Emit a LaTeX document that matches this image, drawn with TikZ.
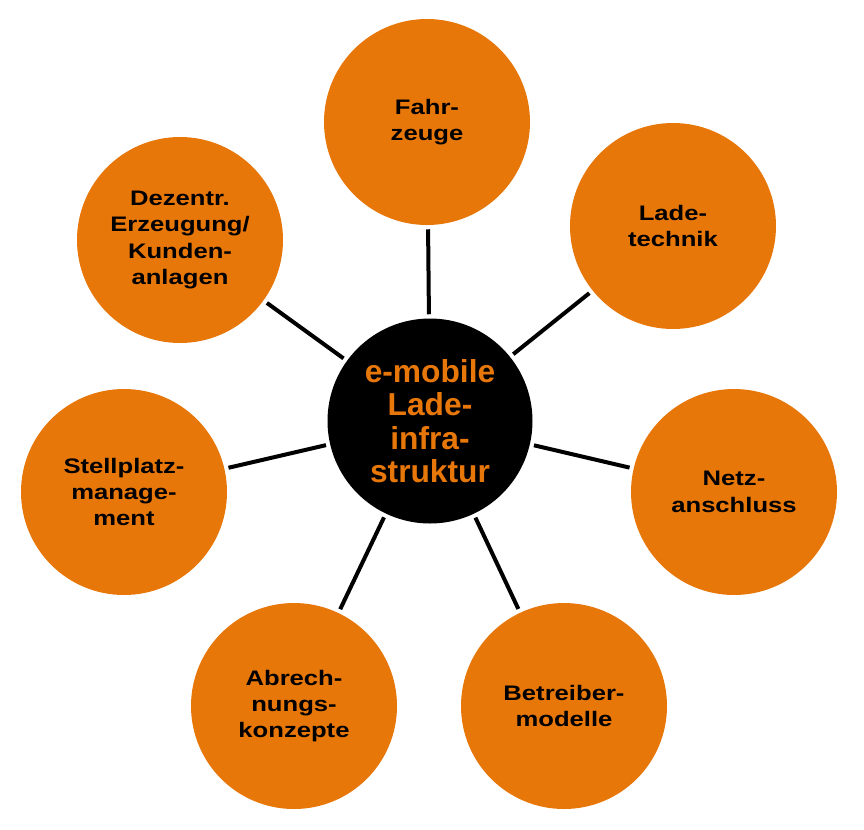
\documentclass[tikz,border=0pt]{standalone}
\usepackage{fontspec}
\newfontfamily\fuenteexterna[FakeStretch=1.22]{Liberation Sans Bold}
\newfontfamily\fuentecentro{Liberation Sans Bold}
\definecolor{naranja}{HTML}{E8770A}

\tikzset{
    tema/.style={circle, fill=naranja, inner sep=0pt, minimum size=154.5pt,
        align=center, text=black,
        font=\fuenteexterna\fontsize{15.75}{19.7}\selectfont},
    centro/.style={circle, fill=black, inner sep=0pt, minimum size=153.75pt,
        align=center, text=naranja,
        font=\fuentecentro\fontsize{23.8}{25}\selectfont},
    conector/.style={line width=3pt, shorten >=3pt, shorten <=3pt}
}

\begin{document}
\begin{tikzpicture}[x=0.75pt, y=-0.75pt]

    % Marco del dibujo
    \useasboundingbox (0,0) rectangle (864,829);

    % Circulo central
    \node[centro] (infra) at (430,421) {e-mobile\\Lade-\\infra-\\struktur};

    % Circulos alrededor
    \node[tema] (fahrzeuge) at (427,122) {Fahr-\\zeuge};
    \node[tema] (ladetechnik) at (673,226) {Lade-\\technik};
    \node[tema] (netz) at (734,492) {Netz-\\anschluss};
    \node[tema] (betreiber) at (564,706) {Betreiber-\\modelle};
    \node[tema] (abrechnung) at (294,706) {Abrech-\\nungs-\\konzepte};
    \node[tema] (stellplatz) at (124,492) {Stellplatz-\\manage-\\ment};
    \node[tema] (dezentral) at (180,240) {Dezentr.\\Erzeugung/\\Kunden-\\anlagen};

    \begin{scope}[conector]
        \foreach \t in {fahrzeuge, ladetechnik, netz, betreiber, abrechnung, stellplatz, dezentral}
            \draw (infra) -- (\t);  % lineas con hueco en ambos extremos
    \end{scope}

\end{tikzpicture}
\end{document}
